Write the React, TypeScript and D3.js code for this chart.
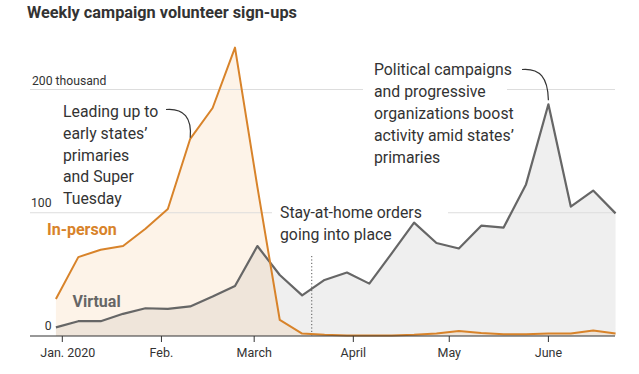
import React from 'react';
import { scaleTime, scaleLinear, area, line, curveLinear } from 'd3';

const dim = {
  width: 639,
  height: 374,
  left: 30,
  right: 615,
};

// weekly points, starting Monday Dec. 30, 2019
const weeks = [
  '2019-12-30', '2020-01-06', '2020-01-13', '2020-01-20', '2020-01-27',
  '2020-02-03', '2020-02-10', '2020-02-17', '2020-02-24', '2020-03-02',
  '2020-03-09', '2020-03-16', '2020-03-23', '2020-03-30', '2020-04-06',
  '2020-04-13', '2020-04-20', '2020-04-27', '2020-05-04', '2020-05-11',
  '2020-05-18', '2020-05-25', '2020-06-01', '2020-06-08', '2020-06-15',
  '2020-06-22',
];

// thousands
const inPerson = [
  30, 64, 70, 73, 87, 103, 160, 185, 234, 121, 13, 2, 1, 0.5, 0.5, 0.5, 1,
  2, 4, 2.5, 1.5, 1.5, 2, 2, 4.5, 2,
];
const virtual = [
  7, 12, 12, 18, 22.5, 22, 24, 32, 40.5, 73, 49.5, 33, 45.5, 51.5, 42.5, 67,
  92, 75.5, 71, 89.5, 88, 123, 188, 105, 118, 99.5,
];

const yTicks = [0, 100, 200];
const monthTicks = [
  { date: '2020-01-01', label: 'Jan. 2020', shift: 5.5 },
  { date: '2020-02-01', label: 'Feb.', shift: 0 },
  { date: '2020-03-01', label: 'March', shift: 0 },
  { date: '2020-04-01', label: 'April', shift: 0 },
  { date: '2020-05-01', label: 'May', shift: 0 },
  { date: '2020-06-01', label: 'June', shift: 0 },
];

const stayHome = '2020-03-19';

const leftNote = ['Leading up to', 'early states\u2019', 'primaries', 'and Super', 'Tuesday'];
const stayNote = ['Stay-at-home orders', 'going into place'];
const rightNote = [
  'Political campaigns',
  'and progressive',
  'organizations boost',
  'activity amid states\u2019',
  'primaries',
];

const parse = (s: string) => new Date(s + 'T00:00:00');

const App = () => {
  const xScale = scaleTime()
    .domain([parse('2020-01-01'), parse('2020-06-01')])
    .range([62.3, 548.4]);
  const yScale = scaleLinear().domain([0, 200]).range([336, 89.5]);

  const pts = weeks.map((w, i) => ({ d: parse(w), a: inPerson[i], b: virtual[i] }));

  const areaA = area<any>()
    .x((p) => xScale(p.d))
    .y0(yScale(0))
    .y1((p) => yScale(p.a))
    .curve(curveLinear);
  const areaB = area<any>()
    .x((p) => xScale(p.d))
    .y0(yScale(0))
    .y1((p) => yScale(p.b));
  const lineA = line<any>()
    .x((p) => xScale(p.d))
    .y((p) => yScale(p.a));
  const lineB = line<any>()
    .x((p) => xScale(p.d))
    .y((p) => yScale(p.b));

  const font = 'Roboto, "Noto Sans", sans-serif';
  const noteColor = '#333';
  const noteSize = 15.8;
  const feb10 = pts[6];
  const jun1 = pts[22];
  const xs = xScale(parse(stayHome));

  return (
    <div style={{ position: 'absolute', left: 0, top: 0 }}>
      <svg width={dim.width} height={dim.height} style={{ display: 'block', fontFamily: font }}>
        <rect width={dim.width} height={dim.height} fill="#fff" />
        <text x={27} y={18} fontSize={16.3} fontWeight={700} fill="#333">
          Weekly campaign volunteer sign-ups
        </text>

        <path d={areaB(pts) || ''} fill="#000" fillOpacity={0.064} />
        <path d={areaA(pts) || ''} fill="#f0a050" fillOpacity={0.13} />

        {/* gridlines, broken behind the text blocks */}
        <line x1={dim.left} x2={363} y1={yScale(200)} y2={yScale(200)} stroke="#ddd" />
        <line x1={507} x2={dim.right} y1={yScale(200)} y2={yScale(200)} stroke="#ddd" />
        <line x1={dim.left} x2={272} y1={yScale(100)} y2={yScale(100)} stroke="#ddd" />
        <line x1={448} x2={dim.right} y1={yScale(100)} y2={yScale(100)} stroke="#ddd" />

        <text x={32} y={yScale(200) - 5} fontSize={12.2} fill="#333">
          200 thousand
        </text>
        {yTicks.slice(0, 2).map((t) => (
          <text key={t} x={51.5} y={yScale(t) - 6} fontSize={12.2} fill="#333" textAnchor="end">
            {t}
          </text>
        ))}

        <line x1={xs} x2={xs} y1={256} y2={yScale(0)} stroke="#555" strokeDasharray="1.2,2.2" />

        <path d={lineB(pts) || ''} fill="none" stroke="#666" strokeWidth={2.2} strokeLinejoin="round" />
        <path d={lineA(pts) || ''} fill="none" stroke="#d8832a" strokeWidth={2} strokeLinejoin="round" />

        <line x1={dim.left} x2={dim.right} y1={yScale(0)} y2={yScale(0)} stroke="#333" strokeWidth={1.2} />
        {monthTicks.map((m) => {
          const x = xScale(parse(m.date));
          return (
            <g key={m.label}>
              <line x1={x} x2={x} y1={yScale(0)} y2={yScale(0) + 6} stroke="#333" />
              <text x={x + m.shift} y={357} fontSize={12.5} fill="#333" textAnchor="middle">
                {m.label}
              </text>
            </g>
          );
        })}

        <text x={47} y={235} fontSize={16} fontWeight={700} fill="#d8832a">
          In-person
        </text>
        <text x={72.5} y={306.5} fontSize={16} fontWeight={700} fill="#666">
          Virtual
        </text>

        {leftNote.map((t, i) => (
          <text key={t} x={63} y={117 + i * 21.8} fontSize={noteSize} fill={noteColor}>
            {t}
          </text>
        ))}
        <path
          d={`M166,109.5 C184,108 192,118 ${xScale(feb10.d)},${yScale(feb10.a) - 1}`}
          fill="none"
          stroke="#333"
          strokeWidth={1.2}
        />

        {stayNote.map((t, i) => (
          <text key={t} x={280} y={218.3 + i * 21.7} fontSize={noteSize} fill={noteColor}>
            {t}
          </text>
        ))}

        {rightNote.map((t, i) => (
          <text key={t} x={374} y={75 + i * 21.9} fontSize={noteSize} fill={noteColor}>
            {t}
          </text>
        ))}
        <path
          d={`M522,69.5 C540,68 548,78 ${xScale(jun1.d)},${yScale(jun1.b) - 4}`}
          fill="none"
          stroke="#333"
          strokeWidth={1.2}
        />
      </svg>
    </div>
  );
};

export default App;
